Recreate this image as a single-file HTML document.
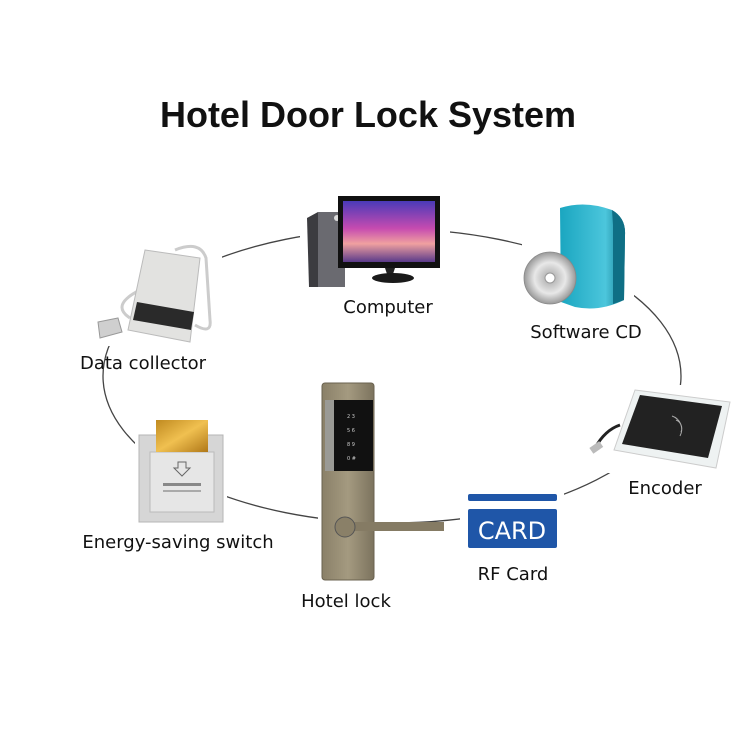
<!DOCTYPE html>
<html><head><meta charset="utf-8"><style>
html,body{margin:0;padding:0;background:#fff;}
svg{display:block;}
text{font-family:"DejaVu Sans","Liberation Sans",sans-serif;fill:#111;}
</style></head><body>
<svg width="750" height="750" viewBox="0 0 750 750" xmlns="http://www.w3.org/2000/svg">
<defs>
<linearGradient id="scr" x1="0" y1="0" x2="0" y2="1">
<stop offset="0" stop-color="#4a3ab8"/><stop offset="0.45" stop-color="#c64bb0"/><stop offset="0.7" stop-color="#f0a0a0"/><stop offset="1" stop-color="#5a3a8a"/></linearGradient>
<linearGradient id="teal" x1="0" y1="0" x2="1" y2="0">
<stop offset="0" stop-color="#1aa6c0"/><stop offset="0.7" stop-color="#4cc6dc"/><stop offset="1" stop-color="#137a90"/></linearGradient>
<radialGradient id="cd"><stop offset="0" stop-color="#fff"/><stop offset="0.2" stop-color="#bbb"/><stop offset="0.6" stop-color="#e8e8e8"/><stop offset="1" stop-color="#999"/></radialGradient>
<linearGradient id="brz" x1="0" y1="0" x2="1" y2="0"><stop offset="0" stop-color="#8a8068"/><stop offset="0.5" stop-color="#a49a80"/><stop offset="1" stop-color="#7c735e"/></linearGradient>
<linearGradient id="gold" x1="0" y1="0" x2="1" y2="1"><stop offset="0" stop-color="#c08a20"/><stop offset="0.5" stop-color="#f0c050"/><stop offset="1" stop-color="#b07818"/></linearGradient>
</defs>
<text x="368" y="127" text-anchor="middle" font-family="Liberation Sans" style="font-family:'Liberation Sans',sans-serif;font-weight:bold;font-size:36px">Hotel Door Lock System</text>

<ellipse cx="392" cy="376" rx="289" ry="147" fill="none" stroke="#444" stroke-width="1.3"/>

<!-- Computer -->
<rect x="300" y="195" width="150" height="95" fill="#fff"/>
<path d="M307 218 L318 212 L345 212 L345 287 L309 287 Z" fill="#3c3c40"/>
<rect x="318" y="212" width="27" height="75" fill="#6a6a70"/>
<circle cx="337" cy="218" r="3" fill="#ddd"/>
<rect x="338" y="196" width="102" height="72" fill="#111"/>
<rect x="343" y="201" width="92" height="61" fill="url(#scr)"/>
<path d="M385 268 L395 268 L393 274 L387 274Z" fill="#222"/>
<ellipse cx="393" cy="278" rx="21" ry="5" fill="#1a1a1a"/>
<text x="388" y="313" text-anchor="middle" font-size="18">Computer</text>

<!-- Software CD -->
<rect x="522" y="200" width="112" height="112" fill="#fff"/>
<path d="M560 208 Q585 200 612 210 Q626 218 625 235 L624 300 Q600 312 575 307 L561 302 Z" fill="url(#teal)"/>
<path d="M612 210 Q626 218 625 235 L624 300 L613 304 L613 225 Z" fill="#0f6f85"/>
<circle cx="550" cy="278" r="26" fill="url(#cd)" stroke="#888" stroke-width="0.8"/>
<circle cx="550" cy="278" r="5" fill="#fff" stroke="#999"/>
<text x="586" y="338" text-anchor="middle" font-size="18">Software CD</text>

<!-- Data collector -->
<rect x="92" y="238" width="130" height="108" fill="#fff"/>
<path d="M175 250 Q200 240 206 258 L210 320 Q212 335 195 325" fill="none" stroke="#ccc" stroke-width="3"/>
<path d="M140 290 Q110 305 130 318" fill="none" stroke="#ccc" stroke-width="3"/>
<path d="M145 250 L200 258 L190 342 L128 330 Z" fill="#e2e2e0" stroke="#bbb"/>
<path d="M137 302 L194 312 L191 330 L133 320 Z" fill="#2a2a2a"/>
<path d="M98 322 L118 318 L122 332 L100 338 Z" fill="#cfcfcf" stroke="#999"/>
<text x="143" y="369" text-anchor="middle" font-size="18">Data collector</text>

<!-- Encoder -->
<rect x="590" y="385" width="145" height="88" fill="#fff"/>
<path d="M595 448 Q605 430 620 425" fill="none" stroke="#222" stroke-width="3"/>
<rect x="590" y="444" width="12" height="7" fill="#bbb" transform="rotate(-35 596 447)"/>
<path d="M635 390 L730 402 L716 468 L614 450 Z" fill="#eef2f2" stroke="#ccc"/>
<path d="M640 395 L722 406 L708 458 L622 444 Z" fill="#222"/>
<path d="M676 420 a9 9 0 0 1 5 12 M672 416 a14 14 0 0 1 8 20" fill="none" stroke="#aaa" stroke-width="1"/>
<text x="665" y="494" text-anchor="middle" font-size="18">Encoder</text>

<!-- Energy-saving switch -->
<rect x="135" y="415" width="92" height="110" fill="#fff"/>
<rect x="139" y="435" width="84" height="87" fill="#d6d6d6" stroke="#b5b5b5"/>
<rect x="150" y="452" width="64" height="60" fill="#e6e6e6" stroke="#bbb"/>
<rect x="156" y="420" width="52" height="32" fill="url(#gold)"/>
<path d="M178 462 L186 462 L186 468 L190 468 L182 476 L174 468 L178 468 Z" fill="none" stroke="#666"/>
<rect x="163" y="483" width="38" height="3" fill="#888"/>
<rect x="163" y="490" width="38" height="2" fill="#aaa"/>
<text x="178" y="548" text-anchor="middle" font-size="18">Energy-saving switch</text>

<!-- Hotel lock -->
<rect x="318" y="380" width="60" height="205" fill="#fff"/>
<rect x="322" y="383" width="52" height="197" rx="3" fill="url(#brz)" stroke="#6a624f"/>
<rect x="334" y="400" width="39" height="71" fill="#111"/>
<rect x="325" y="400" width="9" height="71" fill="#9a9a95"/>
<g font-size="5" style="fill:#ccc">
<text x="347" y="418" style="fill:#ccc">2  3</text><text x="347" y="432" style="fill:#ccc">5  6</text><text x="347" y="446" style="fill:#ccc">8  9</text><text x="347" y="460" style="fill:#ccc">0  #</text>
</g>
<rect x="345" y="522" width="99" height="9" fill="#857b64"/>
<circle cx="345" cy="527" r="10" fill="#8a8068" stroke="#555"/>
<text x="346" y="607" text-anchor="middle" font-size="18">Hotel lock</text>

<!-- RF Card -->
<rect x="460" y="490" width="104" height="62" fill="#fff"/>
<rect x="468" y="494" width="89" height="7" rx="2" fill="#1f56a8"/>
<rect x="468" y="509" width="89" height="39" rx="2" fill="#1f56a8"/>
<text x="512" y="539" text-anchor="middle" font-size="24" style="fill:#fff">CARD</text>
<text x="513" y="580" text-anchor="middle" font-size="18">RF Card</text>
</svg>
</body></html>
